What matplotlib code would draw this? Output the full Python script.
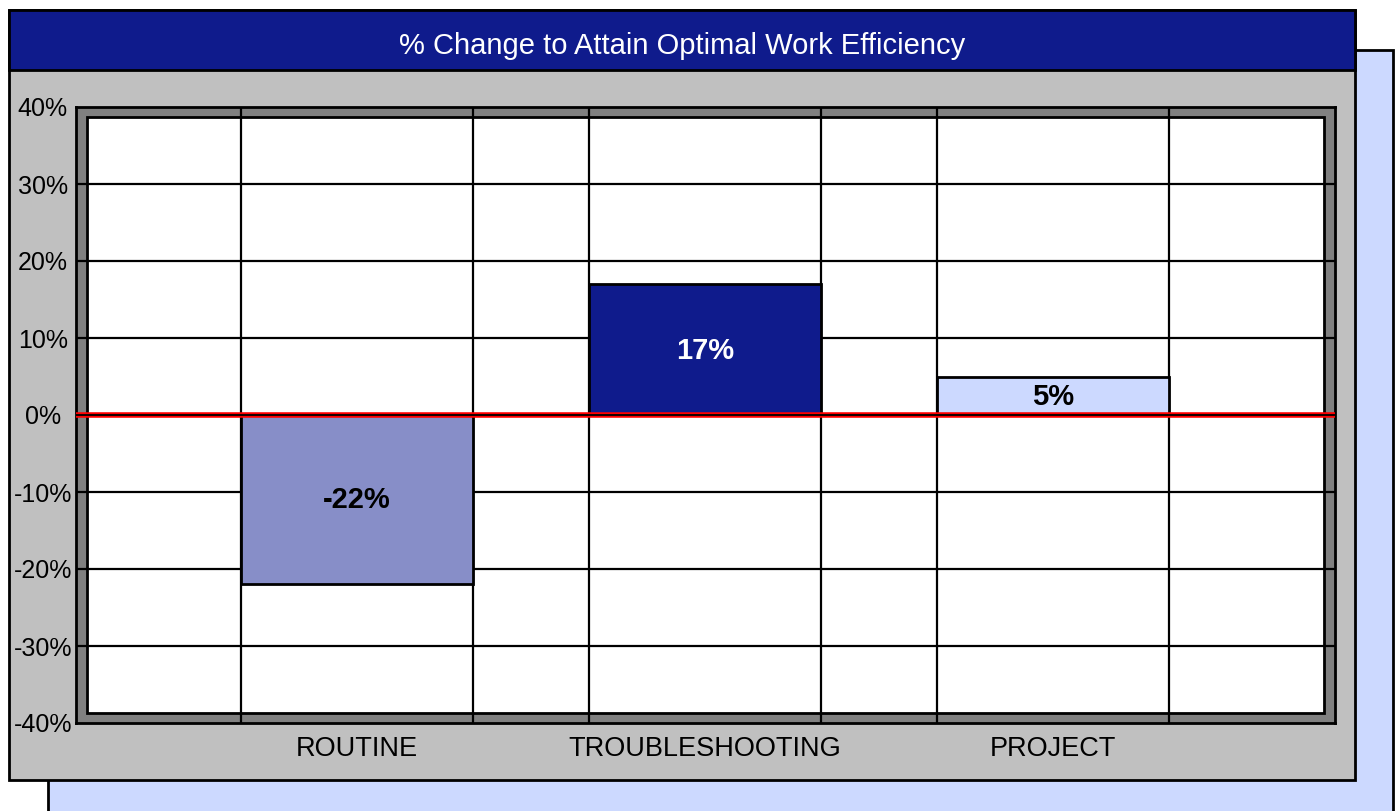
import matplotlib
matplotlib.use("Agg")
import matplotlib.pyplot as plt
import matplotlib.patches as mpatches
import numpy as np

plt.rcParams['font.family'] = ['Liberation Sans', 'DejaVu Sans']

# data
categories = ['ROUTINE', 'TROUBLESHOOTING', 'PROJECT']
values = [-22, 17, 5]
bar_colors = ['#878ec8', '#0f1b8c', '#ccd9ff']
label_colors = ['black', 'white', 'black']
y_ticks = [-40, -30, -20, -10, 0, 10, 20, 30, 40]
title = '% Change to Attain Optimal Work Efficiency'

W, H = 1395, 811
fig = plt.figure(figsize=(W / 100, H / 100), dpi=100)
fig.patch.set_facecolor('white')


def px_rect(x0, y0, x1, y1, **kw):
    """Rectangle in pixel coords (top-left origin) added to the figure."""
    r = mpatches.Rectangle((x0 / W, 1 - y1 / H), (x1 - x0) / W, (y1 - y0) / H,
                           transform=fig.transFigure, **kw)
    fig.patches.append(r)
    return r


# shadow panel, grey panel, title bar
px_rect(48, 50, 1393, 815, facecolor='#ccd9ff', edgecolor='black', linewidth=2, zorder=-3)
px_rect(9, 10, 1355, 780, facecolor='#c0c0c0', edgecolor='black', linewidth=2, zorder=-2)
px_rect(9, 10, 1355, 70, facecolor='#0f1b8c', edgecolor='black', linewidth=2, zorder=-1)
fig.text((9 + 1355) / 2 / W, 1 - 46 / H, title, color='white', fontsize=21,
         ha='center', va='center', zorder=3)

ax = fig.add_axes([76 / W, 1 - 723 / H, 1259 / W, 616 / H])
ax.set_zorder(5)
ax.set_facecolor('#808080')
for s in ax.spines.values():
    s.set_color('black')
    s.set_linewidth(2)
ix, iy = 11 / 1259, 10 / 616
ax.add_patch(mpatches.Rectangle((ix, iy), 1 - 2 * ix, 1 - 2 * iy, transform=ax.transAxes,
                                facecolor='white', edgecolor='black', linewidth=2, zorder=0.5))

x = np.arange(len(categories))
width = 2 / 3

# gridlines
for t in y_ticks[1:-1]:
    ax.axhline(t, color='black', linewidth=1.6, zorder=1)
for xi in x:
    for e in (xi - width / 2, xi + width / 2):
        ax.axvline(e, color='black', linewidth=1.6, zorder=1)

ax.bar(x, values, width=width, color=bar_colors, edgecolor='black', linewidth=2, zorder=2)

# zero line
ax.axhline(0, color='#ff0000', linewidth=4, zorder=3)
ax.axhline(0, color='black', linewidth=1.3, zorder=3.5)

for xi, v, c in zip(x, values, label_colors):
    ax.text(xi, v / 2 + (-0.2 if v > 0 else 0), f'{v}%', ha='center', va='center',
            fontsize=21, fontweight='bold', color=c, zorder=4)

ax.set_xlim(-0.8075, 2.81)
ax.set_ylim(-40, 40)
ax.set_yticks(y_ticks)
ax.set_yticklabels([f'{t}%' for t in y_ticks], ha='center')
ax.set_xticks(x)
ax.set_xticklabels(categories)
ax.tick_params(axis='y', length=0, pad=24, labelsize=18)
ax.tick_params(axis='x', length=0, pad=9, labelsize=19.5)

fig.savefig('out.png', dpi=100)
